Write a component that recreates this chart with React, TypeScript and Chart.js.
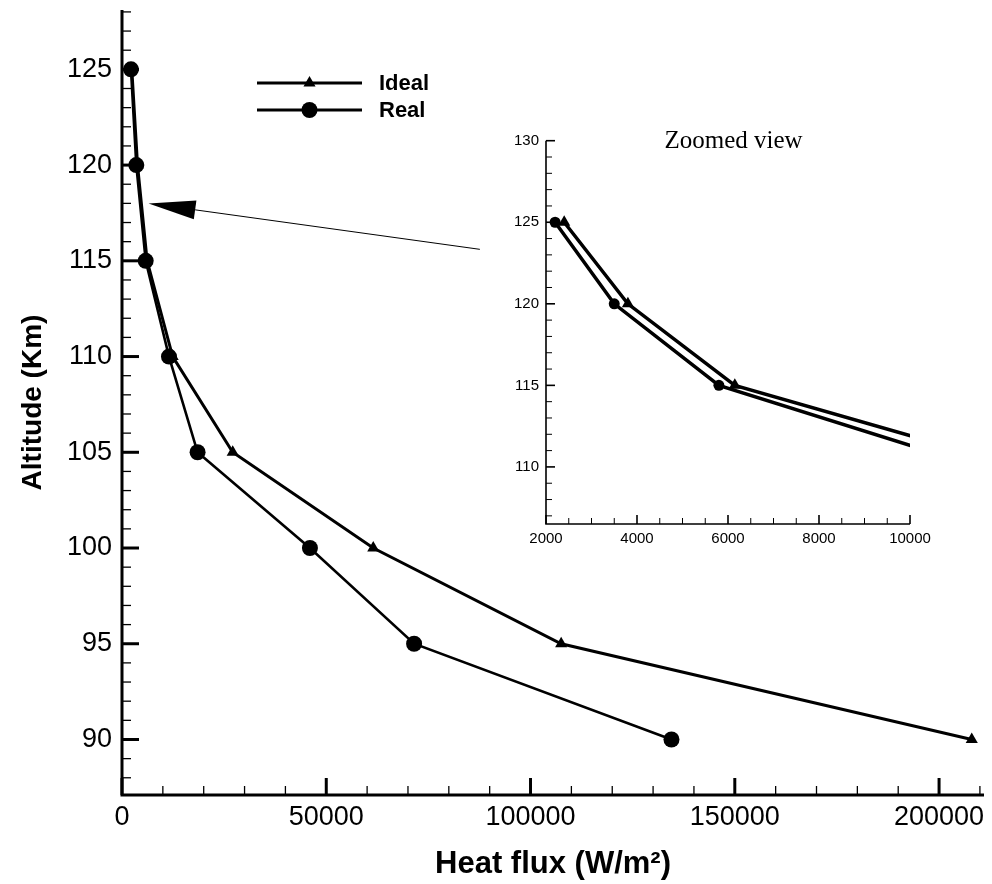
import React, { useEffect, useRef } from "react";
import { Chart, registerables } from "chart.js";

Chart.register(...registerables);

// ---------- data ----------
const ALTITUDES = [125, 120, 115, 110, 105, 100, 95, 90];
const IDEAL_FLUX = [2400, 3800, 6150, 12400, 27100, 61500, 107500, 208000];
const REAL_FLUX = [2200, 3500, 5800, 11500, 18500, 46000, 71500, 134500];
const SERIES_LABELS = ["Ideal", "Real"];
const X_TITLE = "Heat flux (W/m²)";
const Y_TITLE = "Altitude (Km)";
const INSET_TITLE = "Zoomed view";

const MAIN_X_RANGE = [0, 211000];
const MAIN_Y_RANGE = [87.1, 128.1];
const MAIN_X_TICKS = [0, 50000, 100000, 150000, 200000];
const MAIN_Y_TICKS = [90, 95, 100, 105, 110, 115, 120, 125];
const MAIN_X_STEPS = [50000, 10000]; // major, minor
const MAIN_Y_STEPS = [5, 1];

const INSET_X_RANGE = [2000, 10000];
const INSET_Y_RANGE = [106.5, 130];
const INSET_X_TICKS = [2000, 4000, 6000, 8000, 10000];
const INSET_Y_TICKS = [110, 115, 120, 125, 130];
const INSET_X_STEPS = [2000, 500];
const INSET_Y_STEPS = [5, 1];

// arrow annotation (data coordinates of the main chart)
const ARROW_FROM = [87600, 115.6];
const ARROW_TO = [6500, 118];

const FONT = '"Liberation Sans", Arial, Helvetica, sans-serif';

const toPoints = (xs: number[]) => xs.map((x, i) => ({ x, y: ALTITUDES[i] }));

type AxisCfg = {
  xSteps: number[];
  ySteps: number[];
  lineW: number;
  majorW: number;
  minorW: number;
  majorLen: number;
  minorLen: number;
};

function inwardAxesPlugin(cfg: AxisCfg) {
  return {
    id: "inwardAxes",
    afterDatasetsDraw(chart: any) {
      const { ctx, chartArea: a, scales } = chart;
      const xs = scales.x;
      const ys = scales.y;
      ctx.save();
      ctx.strokeStyle = "#000";
      ctx.lineCap = "butt";
      const isMajor = (v: number, step: number) =>
        Math.abs(v / step - Math.round(v / step)) < 1e-6;
      {
        const [maj, min] = cfg.xSteps;
        const i0 = Math.ceil(xs.min / min - 1e-9);
        const i1 = Math.floor(xs.max / min + 1e-9);
        for (let i = i0; i <= i1; i++) {
          const v = i * min;
          const px = xs.getPixelForValue(v);
          const m = isMajor(v, maj);
          ctx.lineWidth = m ? cfg.majorW : cfg.minorW;
          ctx.beginPath();
          ctx.moveTo(px, a.bottom);
          ctx.lineTo(px, a.bottom - (m ? cfg.majorLen : cfg.minorLen));
          ctx.stroke();
        }
      }
      {
        const [maj, min] = cfg.ySteps;
        const i0 = Math.ceil(ys.min / min - 1e-9);
        const i1 = Math.floor(ys.max / min + 1e-9);
        for (let i = i0; i <= i1; i++) {
          const v = i * min;
          const py = ys.getPixelForValue(v);
          const m = isMajor(v, maj);
          ctx.lineWidth = m ? cfg.majorW : cfg.minorW;
          ctx.beginPath();
          ctx.moveTo(a.left, py);
          ctx.lineTo(a.left + (m ? cfg.majorLen : cfg.minorLen), py);
          ctx.stroke();
        }
      }
      ctx.lineWidth = cfg.lineW;
      ctx.beginPath();
      ctx.moveTo(a.left, a.top);
      ctx.lineTo(a.left, a.bottom + cfg.lineW / 2);
      ctx.moveTo(a.left - cfg.lineW / 2, a.bottom);
      ctx.lineTo(a.right, a.bottom);
      ctx.stroke();
      ctx.restore();
    },
  };
}

function drawMarker(ctx: CanvasRenderingContext2D, style: string, x: number, y: number, r: number) {
  ctx.beginPath();
  if (style === "triangle") {
    let rad = 0;
    ctx.moveTo(x + Math.sin(rad) * r, y - Math.cos(rad) * r);
    rad += (2 * Math.PI) / 3;
    ctx.lineTo(x + Math.sin(rad) * r, y - Math.cos(rad) * r);
    rad += (2 * Math.PI) / 3;
    ctx.lineTo(x + Math.sin(rad) * r, y - Math.cos(rad) * r);
    ctx.closePath();
  } else {
    ctx.arc(x, y, r, 0, Math.PI * 2);
  }
  ctx.fill();
}

const legendPlugin = {
  id: "customLegend",
  afterDraw(chart: any) {
    const { ctx } = chart;
    const rows = [83, 110];
    const x0 = 257;
    const x1 = 362;
    const tx = 379;
    ctx.save();
    chart.data.datasets.forEach((ds: any, i: number) => {
      const y = rows[i];
      ctx.strokeStyle = "#000";
      ctx.fillStyle = "#000";
      ctx.lineWidth = 3;
      ctx.beginPath();
      ctx.moveTo(x0, y);
      ctx.lineTo(x1, y);
      ctx.stroke();
      drawMarker(ctx, ds.pointStyle, (x0 + x1) / 2, y, ds.pointRadius);
      ctx.font = `bold 22px ${FONT}`;
      ctx.textAlign = "left";
      ctx.textBaseline = "middle";
      ctx.fillText(ds.label, tx, y + 1);
    });
    ctx.restore();
  },
};

const arrowPlugin = {
  id: "arrow",
  afterDraw(chart: any) {
    const { ctx, scales } = chart;
    const fx = scales.x.getPixelForValue(ARROW_FROM[0]);
    const fy = scales.y.getPixelForValue(ARROW_FROM[1]);
    const tx = scales.x.getPixelForValue(ARROW_TO[0]);
    const ty = scales.y.getPixelForValue(ARROW_TO[1]);
    const dx = fx - tx;
    const dy = fy - ty;
    const len = Math.hypot(dx, dy);
    const ux = dx / len;
    const uy = dy / len;
    const headLen = 47;
    const headHalf = 9.5;
    const bx = tx + ux * headLen;
    const by = ty + uy * headLen;
    ctx.save();
    ctx.strokeStyle = "#000";
    ctx.fillStyle = "#000";
    ctx.lineWidth = 1;
    ctx.beginPath();
    ctx.moveTo(fx, fy);
    ctx.lineTo(bx, by);
    ctx.stroke();
    ctx.beginPath();
    ctx.moveTo(tx, ty);
    ctx.lineTo(bx - uy * headHalf, by + ux * headHalf);
    ctx.lineTo(bx + uy * headHalf, by - ux * headHalf);
    ctx.closePath();
    ctx.fill();
    ctx.restore();
  },
};

const insetTitlePlugin = {
  id: "insetTitle",
  afterDraw(chart: any) {
    const { ctx, chartArea: a } = chart;
    ctx.save();
    ctx.fillStyle = "#000";
    ctx.font = `25px "Liberation Serif", "Times New Roman", serif`;
    ctx.textAlign = "center";
    ctx.textBaseline = "alphabetic";
    ctx.fillText(INSET_TITLE, (a.left + a.right) / 2 + 5.5, a.top + 7.5);
    ctx.restore();
  },
};

const setTicks = (values: number[]) => (s: any) => {
  s.ticks = values.map((value) => ({ value }));
};

function xScale(range: number[], ticks: number[], fontSize: number, pad: number, height: number, title?: any) {
  return {
    type: "linear",
    position: "bottom",
    min: range[0],
    max: range[1],
    border: { display: false },
    grid: { display: false, drawTicks: false },
    afterBuildTicks: setTicks(ticks),
    ticks: {
      autoSkip: false,
      maxRotation: 0,
      minRotation: 0,
      padding: pad,
      color: "#000",
      font: { family: FONT, size: fontSize },
      callback: (v: any) => String(v),
    },
    title: title || { display: false },
    afterFit: (s: any) => {
      s.height = height;
      s.paddingLeft = 0;
      s.paddingRight = 0;
      s.paddingTop = 0;
      s.paddingBottom = 0;
    },
  };
}

function yScale(range: number[], ticks: number[], fontSize: number, pad: number, width: number, title?: any) {
  return {
    type: "linear",
    min: range[0],
    max: range[1],
    border: { display: false },
    grid: { display: false, drawTicks: false },
    afterBuildTicks: setTicks(ticks),
    ticks: {
      autoSkip: false,
      padding: pad,
      color: "#000",
      font: { family: FONT, size: fontSize },
      callback: (v: any) => String(v),
    },
    title: title || { display: false },
    afterFit: (s: any) => {
      s.width = width;
      s.paddingLeft = 0;
      s.paddingRight = 0;
      s.paddingTop = 0;
      s.paddingBottom = 0;
    },
  };
}

function MainChart() {
  const ref = useRef<HTMLCanvasElement | null>(null);
  useEffect(() => {
    if (!ref.current) return;
    const chart = new Chart(ref.current, {
      type: "line",
      data: {
        datasets: [
          {
            label: SERIES_LABELS[0],
            data: toPoints(IDEAL_FLUX),
            borderColor: "#000",
            backgroundColor: "#000",
            pointBackgroundColor: "#000",
            pointBorderColor: "#000",
            pointBorderWidth: 0,
            pointStyle: "triangle",
            pointRadius: 7,
            borderWidth: 3,
            tension: 0,
            fill: false,
            clip: false,
          },
          {
            label: SERIES_LABELS[1],
            data: toPoints(REAL_FLUX),
            borderColor: "#000",
            backgroundColor: "#000",
            pointBackgroundColor: "#000",
            pointBorderColor: "#000",
            pointBorderWidth: 0,
            pointStyle: "circle",
            pointRadius: 8,
            borderWidth: 2.6,
            tension: 0,
            fill: false,
            clip: false,
          },
        ],
      } as any,
      options: {
        animation: false,
        responsive: false,
        devicePixelRatio: 1,
        layout: { padding: { top: 10, right: 4, left: 0, bottom: 0 } },
        plugins: { legend: { display: false }, tooltip: { enabled: false } },
        scales: {
          x: xScale(MAIN_X_RANGE, MAIN_X_TICKS, 27, 6, 89, {
            display: true,
            text: X_TITLE,
            color: "#000",
            font: { family: FONT, size: 31, weight: "bold" },
            padding: { top: 0, bottom: 1 },
          }),
          y: yScale(MAIN_Y_RANGE, MAIN_Y_TICKS, 27, 10, 122, {
            display: true,
            text: Y_TITLE,
            color: "#000",
            font: { family: FONT, size: 28, weight: "bold" },
            padding: { top: 16, bottom: 0 },
          }),
        },
      } as any,
      plugins: [
        inwardAxesPlugin({
          xSteps: MAIN_X_STEPS,
          ySteps: MAIN_Y_STEPS,
          lineW: 3,
          majorW: 3,
          minorW: 1.3,
          majorLen: 17,
          minorLen: 9,
        }),
        legendPlugin,
        arrowPlugin,
      ],
    });
    return () => chart.destroy();
  }, []);
  return (
    <canvas
      ref={ref}
      width={992}
      height={884}
      style={{ position: "absolute", left: 0, top: 0, width: 992, height: 884, display: "block" }}
    />
  );
}

function InsetChart() {
  const ref = useRef<HTMLCanvasElement | null>(null);
  useEffect(() => {
    if (!ref.current) return;
    const chart = new Chart(ref.current, {
      type: "line",
      data: {
        datasets: [
          {
            label: SERIES_LABELS[0],
            data: toPoints(IDEAL_FLUX),
            borderColor: "#000",
            backgroundColor: "#000",
            pointBackgroundColor: "#000",
            pointBorderWidth: 0,
            pointStyle: "triangle",
            pointRadius: 7,
            borderWidth: 3.5,
            tension: 0,
            fill: false,
          },
          {
            label: SERIES_LABELS[1],
            data: toPoints(REAL_FLUX),
            borderColor: "#000",
            backgroundColor: "#000",
            pointBackgroundColor: "#000",
            pointBorderWidth: 0,
            pointStyle: "circle",
            pointRadius: 5.5,
            borderWidth: 3.5,
            tension: 0,
            fill: false,
          },
        ],
      } as any,
      options: {
        animation: false,
        responsive: false,
        devicePixelRatio: 1,
        layout: { padding: { top: 30.7, right: 70, left: 0, bottom: 0 } },
        plugins: { legend: { display: false }, tooltip: { enabled: false } },
        scales: {
          x: xScale(INSET_X_RANGE, INSET_X_TICKS, 15, 6, 46),
          y: yScale(INSET_Y_RANGE, INSET_Y_TICKS, 15, 7, 66),
        },
      } as any,
      plugins: [
        inwardAxesPlugin({
          xSteps: INSET_X_STEPS,
          ySteps: INSET_Y_STEPS,
          lineW: 1.6,
          majorW: 1.6,
          minorW: 1,
          majorLen: 9,
          minorLen: 6,
        }),
        insetTitlePlugin,
      ],
    });
    return () => chart.destroy();
  }, []);
  return (
    <canvas
      ref={ref}
      width={500}
      height={460}
      style={{ position: "absolute", left: 480, top: 110, width: 500, height: 460, display: "block" }}
    />
  );
}

export default function App() {
  return (
    <div
      style={{
        position: "absolute",
        left: 0,
        top: 0,
        width: 992,
        height: 884,
        background: "#fff",
        overflow: "hidden",
      }}
    >
      <MainChart />
      <InsetChart />
    </div>
  );
}
